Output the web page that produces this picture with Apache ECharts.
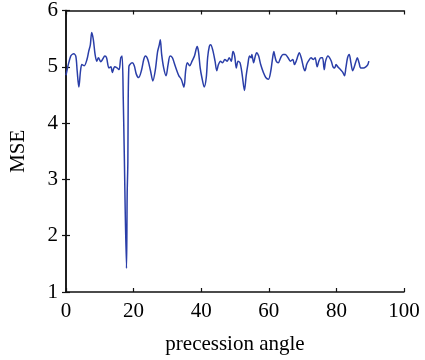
<!DOCTYPE html>
<html>
<head>
<meta charset="utf-8">
<script src="https://cdn.jsdelivr.net/npm/echarts@6/dist/echarts.min.js"></script>
<style>html,body{margin:0;padding:0;background:#fff}#c{width:425px;height:360px}</style>
</head>
<body>
<div id="c"></div>
<script>
var angles = [0,1.4,2.3,2.9,3.3,3.8,4.3,4.7,5.4,6.2,6.7,7.2,7.6,8.1,8.6,9.1,9.6,10.3,10.8,11.5,12.0,12.7,13.3,13.7,14.4,15.1,15.7,16.2,16.6,16.95,17.2,17.9,18.1,18.3,18.4,18.6,18.9,19.6,20.2,20.8,21.5,22.3,23.0,23.5,24.2,25.0,25.7,26.4,27.1,27.6,27.9,28.3,28.9,29.6,30.2,30.8,31.5,32.0,32.8,33.4,34.1,34.9,35.4,35.9,36.6,37.3,38.0,38.8,39.2,39.7,40.2,40.9,41.5,41.9,42.4,42.8,43.4,44.1,44.6,45.1,45.7,46.3,47.0,47.7,48.3,48.9,49.4,49.9,50.4,50.9,51.5,52.1,52.8,53.3,53.8,54.3,54.8,55.0,55.5,56.0,56.4,57.0,57.6,58.4,59.1,59.9,60.6,61.0,61.5,61.8,62.2,62.8,63.5,64.2,64.9,65.7,66.4,67.1,67.6,68.1,68.6,69.0,69.6,70.3,70.7,71.2,71.7,72.5,73.2,73.7,74.3,74.8,75.4,75.9,76.4,76.8,77.5,78.0,78.5,79.0,79.5,79.9,80.4,81.2,81.9,82.4,82.8,83.3,83.8,84.3,84.8,85.3,85.8,86.2,86.7,87.2,88.0,88.7,89.3,89.6];
var mse = [4.85,5.19,5.23,5.19,4.93,4.64,4.93,5.04,5.02,5.13,5.27,5.39,5.61,5.48,5.22,5.10,5.16,5.09,5.13,5.19,5.16,4.98,5.0,4.90,5.0,4.98,4.95,5.16,5.19,4.4,3.6,1.42,2.75,3.3,4.4,5.0,5.04,5.07,5.02,4.87,4.81,4.93,5.13,5.19,5.13,4.93,4.75,4.93,5.27,5.39,5.48,5.22,4.98,4.84,5.04,5.19,5.16,5.07,4.93,4.84,4.78,4.64,4.93,5.07,5.02,5.10,5.19,5.36,5.27,4.98,4.81,4.64,4.81,5.16,5.36,5.39,5.30,5.10,4.93,5.04,5.10,5.07,5.13,5.10,5.16,5.10,5.27,5.19,4.98,5.10,5.07,4.87,4.58,4.84,5.04,5.19,5.16,5.22,5.07,5.19,5.25,5.19,5.04,4.90,4.81,4.78,4.93,5.10,5.27,5.19,5.10,5.07,5.16,5.22,5.22,5.16,5.10,5.13,5.04,5.10,5.19,5.25,5.16,4.98,4.93,5.04,5.10,5.16,5.13,5.16,5.0,5.10,5.16,5.16,4.95,5.10,5.19,5.16,5.10,5.0,4.98,5.04,5.0,4.95,4.90,4.84,4.98,5.16,5.22,5.07,4.93,5.0,5.10,5.16,5.07,4.98,4.98,5.0,5.04,5.10];
var xTicks = [0,20,40,60,80,100];
var yTicks = [1,2,3,4,5,6];

var pts = angles.map(function(a,i){return [a, mse[i]];});
var font = 'Liberation Serif';
var chart = echarts.init(document.getElementById('c'), null, {renderer:'canvas'});
var axisCommon = {
  axisLine:{show:true, lineStyle:{color:'#111', width:1.5}},
  axisTick:{show:true, inside:true, length:4, lineStyle:{color:'#111', width:1.2}},
  splitLine:{show:false}
};
chart.setOption({
  animation:false,
  grid:{left:60, right:21, top:10, bottom:63, show:false},
  xAxis:[
    Object.assign({type:'value', position:'bottom', min:0, max:100, interval:20,
      name:'precession angle', nameLocation:'middle', nameGap:42,
      nameTextStyle:{fontFamily:font, fontSize:21, color:'#000'},
      axisLabel:{fontFamily:font, fontSize:21, color:'#000', margin:9,
        formatter:function(v){return xTicks.indexOf(v)>=0?String(v):'';}}}, axisCommon),
    Object.assign({type:'value', position:'top', min:0, max:100, interval:20,
      axisLabel:{show:false}}, axisCommon)
  ],
  yAxis:[
    Object.assign({type:'value', position:'left', min:1, max:6, interval:1,
      name:'MSE', nameLocation:'middle', nameGap:37,
      nameTextStyle:{fontFamily:font, fontSize:21, color:'#000'},
      axisLabel:{fontFamily:font, fontSize:21, color:'#000', margin:8,
        formatter:function(v){return yTicks.indexOf(v)>=0?String(v):'';}}}, axisCommon),
    Object.assign({type:'value', position:'right', min:1, max:6, interval:1,
      axisLabel:{show:false}}, axisCommon)
  ],
  series:[{
    type:'line', data:pts, xAxisIndex:0, yAxisIndex:0,
    showSymbol:false, symbol:'none', smooth:0.3,
    lineStyle:{color:'#2a3ea8', width:1.5},
    itemStyle:{color:'#2a3ea8'}
  }]
});
</script>
</body>
</html>
